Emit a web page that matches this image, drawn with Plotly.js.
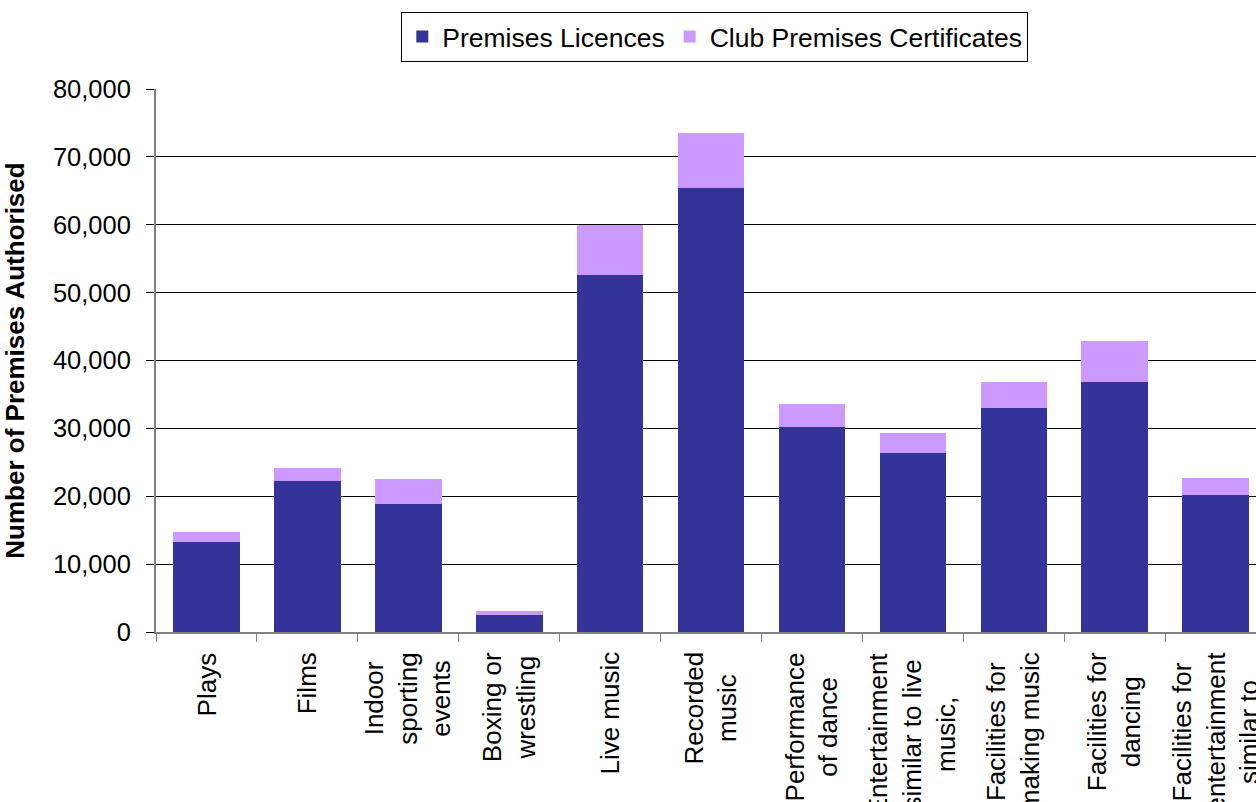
<!DOCTYPE html>
<html><head><meta charset="utf-8">
<script src="https://cdn.plot.ly/plotly-3.0.1.min.js"></script>
<style>html,body{margin:0;padding:0;overflow:hidden;background:#fff}#chart{width:1256px;height:802px;overflow:hidden}</style>
</head><body><div id="chart"></div>
<script>
const categories = ["Plays","Films","Indoor<br>sporting<br>events","Boxing or<br>wrestling","Live music","Recorded<br>music","Performance<br>of dance","Entertainment<br>similar to live<br>music,","Facilities for<br>making music","Facilities for<br>dancing","Facilities for<br>entertainment<br>similar to"];
const premisesLicences = [13260,22250,18860,2500,52600,65410,30200,26370,33000,36830,20180];
const clubPremisesCertificates = [1470,1910,3680,590,7360,8110,3390,2950,3830,6040,2510];
const seriesNames = ["Premises Licences","Club Premises Certificates"];
const yTitle = "Number of Premises Authorised";
const yTicks = [0,10000,20000,30000,40000,50000,60000,70000,80000];

const FONT = "Liberation Sans, Arial, sans-serif";
const traces = [
  {type:'bar', name:seriesNames[0], x:categories, y:premisesLicences, marker:{color:'#333399', line:{width:0}}, hoverinfo:'skip'},
  {type:'bar', name:seriesNames[1], x:categories, y:clubPremisesCertificates, marker:{color:'#CC99FF', line:{width:0}}, hoverinfo:'skip'}
];
const annotations = categories.map(c => ({
  x:c, xref:'x', y:-0.033, yref:'paper', xanchor:'center', yanchor:'top',
  textangle:-90, text:c, showarrow:false, align:'center',
  font:{family:FONT, size:26, color:'#000'}
}));
const layout = {
  width:1256, height:802,
  margin:{l:156, r:0, t:89, b:170, pad:0},
  paper_bgcolor:'#fff', plot_bgcolor:'#fff',
  barmode:'stack', bargap:0.34,
  font:{family:FONT, color:'#000'},
  showlegend:true,
  legend:{orientation:'h', x:0.508, xanchor:'center', y:1.142, yanchor:'top',
    bordercolor:'#000', borderwidth:1, font:{size:26.5, family:FONT}, traceorder:'normal',
    itemwidth:30, tracegroupgap:0},
  xaxis:{type:'category', range:[-0.5,10.4], showticklabels:false, ticks:'outside', tickson:'boundaries',
    ticklen:8, tickcolor:'#808080', tickwidth:1, showline:true, linecolor:'#808080', linewidth:2,
    showgrid:false, zeroline:false, fixedrange:true},
  yaxis:{range:[0,80000], tickvals:yTicks, tickformat:',.0f', ticks:'outside', ticklen:8, tickcolor:'#000',
    showline:true, linecolor:'#808080', linewidth:2, showgrid:true, gridcolor:'#000', gridwidth:1,
    zeroline:false, tickfont:{size:25.5, family:FONT}, ticklabelstandoff:10,
    title:{text:yTitle, font:{size:26, family:FONT, weight:'bold'}, standoff:21}, fixedrange:true},
  annotations:annotations
};
Plotly.newPlot('chart', traces, layout, {displayModeBar:false, staticPlot:true});
</script></body></html>
